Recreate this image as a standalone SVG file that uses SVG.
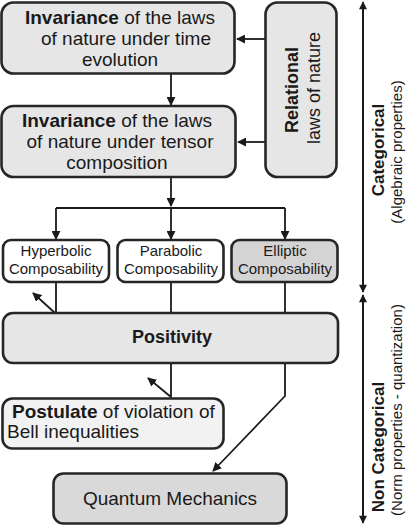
<svg xmlns="http://www.w3.org/2000/svg" width="415" height="526" viewBox="0 0 415 526">
<style>
.box{stroke:#262626;stroke-width:2.6}
.t{font-family:"Liberation Sans",Arial,sans-serif;fill:#1a1a1a}
.b{font-weight:bold}
.big{font-size:19px}
.mid{font-size:18px}
.sm{font-size:15px}
.ax{font-size:15px}
.ln{fill:none;stroke:#1a1a1a;stroke-width:1.8}
</style>
<defs>
<marker id="ah" viewBox="0 0 10 10" refX="9" refY="5" markerWidth="5" markerHeight="5" orient="auto" markerUnits="strokeWidth">
<path d="M0,0L10,5L0,10z" fill="#1a1a1a"/>
</marker>
<marker id="axh" viewBox="0 0 10 10" refX="9" refY="5" markerWidth="5.5" markerHeight="4.5" orient="auto" markerUnits="strokeWidth">
<path d="M0,0L10,5L0,10z" fill="#1a1a1a"/>
</marker>
</defs>
<g id="connectors">
<line class="ln" x1="171" y1="74" x2="171" y2="105" marker-end="url(#ah)"/>
<line class="ln" x1="265" y1="39" x2="237" y2="39" marker-end="url(#ah)"/>
<line class="ln" x1="265" y1="142" x2="238" y2="142" marker-end="url(#ah)"/>
<line class="ln" x1="171" y1="177" x2="171" y2="206" marker-end="url(#ah)"/>
<line class="ln" x1="56" y1="208" x2="285" y2="208"/>
<line class="ln" x1="56" y1="208" x2="56" y2="239" marker-end="url(#ah)"/>
<line class="ln" x1="171" y1="208" x2="171" y2="239" marker-end="url(#ah)"/>
<line class="ln" x1="285" y1="208" x2="285" y2="239" marker-end="url(#ah)"/>
<line class="ln" x1="56" y1="282" x2="56" y2="313"/>
<line class="ln" x1="171" y1="282" x2="171" y2="313"/>
<line class="ln" x1="285" y1="282" x2="285" y2="313"/>
<line class="ln" x1="55" y1="313" x2="33" y2="293" marker-end="url(#ah)"/>
<polyline class="ln" points="171,363 171,397 148,378" marker-end="url(#ah)"/>
<polyline class="ln" points="285,363 285,396 213,471" marker-end="url(#ah)"/>
<line class="ln" x1="363" y1="290" x2="363" y2="2" marker-end="url(#axh)"/>
<line class="ln" x1="363" y1="4" x2="363" y2="292" marker-end="url(#axh)"/>
<line class="ln" x1="363" y1="520" x2="363" y2="295" marker-end="url(#axh)"/>
<line class="ln" x1="363" y1="297" x2="363" y2="523" marker-end="url(#axh)"/>
</g>
<g id="n1">
<rect class="box" x="1.5" y="2.5" width="233" height="71" rx="12" fill="#e6e6e6"/>
<text class="t big" x="120" y="24" text-anchor="middle"><tspan class="b">Invariance</tspan> of the laws</text>
<text class="t big" x="126" y="45" text-anchor="middle">of nature under time</text>
<text class="t big" x="120" y="66" text-anchor="middle">evolution</text>
</g>
<g id="n2">
<rect class="box" x="1.5" y="106" width="234" height="71" rx="12" fill="#e6e6e6"/>
<text class="t big" x="117" y="127" text-anchor="middle"><tspan class="b">Invariance</tspan> of the laws</text>
<text class="t big" x="120" y="148" text-anchor="middle">of nature under tensor</text>
<text class="t big" x="117" y="169" text-anchor="middle">composition</text>
</g>
<g id="n3">
<rect class="box" x="265.5" y="2.5" width="71" height="174.5" rx="12" fill="#e6e6e6"/>
<text class="t mid b" transform="translate(298,90) rotate(-90)" text-anchor="middle">Relational</text>
<text class="t mid" transform="translate(320,88) rotate(-90)" text-anchor="middle">laws of nature</text>
</g>
<g id="n4">
<rect class="box" x="3" y="240" width="106" height="42" rx="8" fill="#ffffff"/>
<text class="t sm" x="56" y="256" text-anchor="middle">Hyperbolic</text>
<text class="t sm" x="56" y="274" text-anchor="middle">Composability</text>
</g>
<g id="n5">
<rect class="box" x="117.5" y="240" width="106" height="42" rx="8" fill="#ffffff"/>
<text class="t sm" x="171" y="256" text-anchor="middle">Parabolic</text>
<text class="t sm" x="171" y="274" text-anchor="middle">Composability</text>
</g>
<g id="n6">
<rect class="box" x="231.5" y="240" width="106" height="42" rx="8" fill="#d4d4d4"/>
<text class="t sm" x="285" y="256" text-anchor="middle">Elliptic</text>
<text class="t sm" x="285" y="274" text-anchor="middle">Composability</text>
</g>
<g id="n7">
<rect class="box" x="3" y="313" width="335" height="50" rx="10" fill="#e6e6e6"/>
<text class="t mid b" x="172" y="343" text-anchor="middle">Positivity</text>
</g>
<g id="n8">
<rect class="box" x="2.5" y="398.5" width="221" height="50" rx="10" fill="#f2f2f2"/>
<text class="t big" x="12" y="418"><tspan class="b">Postulate</tspan> of violation of</text>
<text class="t big" x="7" y="438">Bell inequalities</text>
</g>
<g id="n9">
<rect class="box" x="53.5" y="473.5" width="233" height="50" rx="10" fill="#d9d9d9"/>
<text class="t big" x="170" y="505" text-anchor="middle">Quantum Mechanics</text>
</g>
<g id="axis">
<text class="t b" font-size="17" transform="translate(384,150) rotate(-90)" text-anchor="middle">Categorical</text>
<text class="t ax" transform="translate(402,152) rotate(-90)" text-anchor="middle">(Algebraic properties)</text>
<text class="t b" font-size="17" transform="translate(384,447) rotate(-90)" text-anchor="middle">Non Categorical</text>
<text class="t ax" transform="translate(402,410) rotate(-90)" text-anchor="middle">(Norm properties - quantization)</text>
</g>
</svg>
